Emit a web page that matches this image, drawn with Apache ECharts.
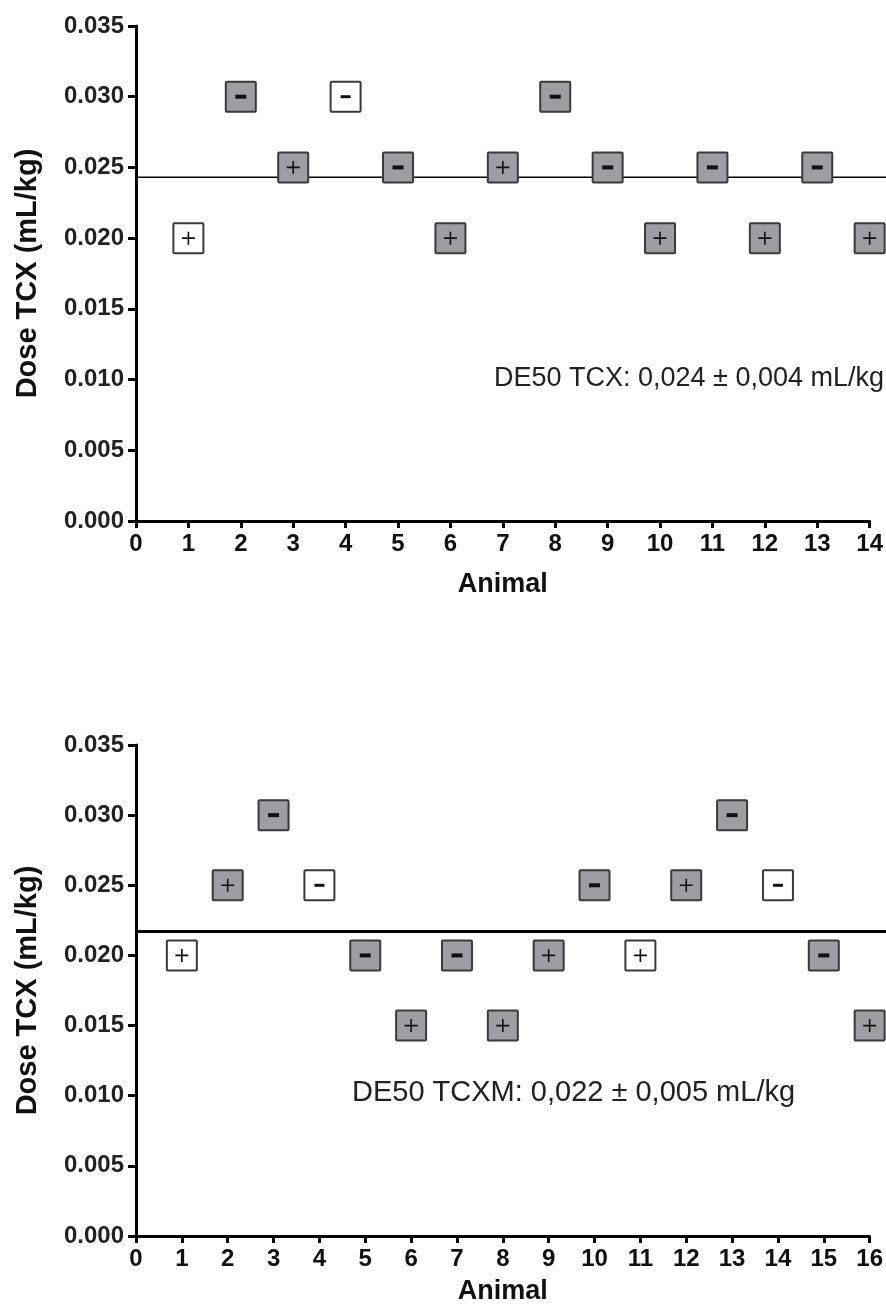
<!DOCTYPE html>
<html lang="en">
<head>
    <meta charset="utf-8">
    <style>
        html, body {
            margin: 0px;
            padding: 0px;
            background-color: #fff;
        }

        #chart {
            width: 886px;
            height: 1310px;
        }
    </style>
    <script src="https://cdn.jsdelivr.net/npm/echarts@6/dist/echarts.min.js"></script>
</head>
<body>
<div id="chart"></div>
<script type="text/javascript">
    // top panel: TCX
    var tcxAnimals = [1, 2, 3, 4, 5, 6, 7, 8, 9, 10, 11, 12, 13, 14];
    var tcxDoses = [0.020, 0.030, 0.025, 0.030, 0.025, 0.020, 0.025, 0.030, 0.025, 0.020, 0.025, 0.020, 0.025, 0.020];
    var tcxSigns = ['+', '-', '+', '-', '-', '+', '+', '-', '-', '+', '-', '+', '-', '+'];
    var tcxOpen = [1, 0, 0, 1, 0, 0, 0, 0, 0, 0, 0, 0, 0, 0];
    var tcxMean = 0.0243;
    var tcxNote = 'DE50 TCX: 0,024 ± 0,004 mL/kg';

    // bottom panel: TCXM
    var tcxmAnimals = [1, 2, 3, 4, 5, 6, 7, 8, 9, 10, 11, 12, 13, 14, 15, 16];
    var tcxmDoses = [0.020, 0.025, 0.030, 0.025, 0.020, 0.015, 0.020, 0.015, 0.020, 0.025, 0.020, 0.025, 0.030, 0.025, 0.020, 0.015];
    var tcxmSigns = ['+', '+', '-', '-', '-', '+', '-', '+', '+', '-', '+', '+', '-', '-', '-', '+'];
    var tcxmOpen = [1, 0, 0, 1, 0, 0, 0, 0, 0, 0, 1, 0, 0, 1, 0, 0];
    var tcxmMean = 0.0217;
    var tcxmNote = 'DE50 TCXM: 0,022 ± 0,005 mL/kg';

    var FONT = '"Liberation Sans", Arial, sans-serif';
    var PLUS = 'path://M0,5.25h12v1.5H0z M5.25,0h1.5v12H5.25z';

    var myChart = echarts.init(document.getElementById('chart'), null, {renderer: 'canvas'});

    function boxData(animals, doses, open) {
        var out = [];
        for (var i = 0; i < animals.length; i++) {
            out.push({
                value: [animals[i], doses[i]],
                itemStyle: {color: open[i] ? '#ffffff' : '#9d9da3'}
            });
        }
        return out;
    }

    function signData(animals, doses, signs, open) {
        var out = [];
        for (var i = 0; i < animals.length; i++) {
            var minus = signs[i] == '-';
            out.push({
                value: [animals[i], doses[i]],
                symbol: minus ? 'rect' : PLUS,
                symbolSize: minus ? (open[i] ? [10, 3] : [11, 4]) : [13, 13]
            });
        }
        return out;
    }

    function makeXAxis(idx, max, gap) {
        return {
            type: 'value',
            gridIndex: idx,
            min: 0,
            max: max,
            interval: 1,
            name: 'Animal',
            nameLocation: 'middle',
            nameGap: gap,
            nameTextStyle: {fontFamily: FONT, fontWeight: 'bold', fontSize: 27, color: '#111'},
            axisLine: {onZero: false, lineStyle: {color: '#000', width: 3}},
            axisTick: {length: 7, lineStyle: {color: '#000', width: 3}},
            axisLabel: {fontFamily: FONT, fontWeight: 'bold', fontSize: 24, color: '#111', margin: 11},
            splitLine: {show: false}
        };
    }

    function makeYAxis(idx) {
        return {
            type: 'value',
            gridIndex: idx,
            min: 0,
            max: 0.035,
            interval: 0.005,
            name: 'Dose TCX (mL/kg)',
            nameLocation: 'middle',
            nameGap: 94,
            nameTextStyle: {fontFamily: FONT, fontWeight: 'bold', fontSize: 29, color: '#111'},
            axisLine: {onZero: false, lineStyle: {color: '#000', width: 3}},
            axisTick: {length: 8, lineStyle: {color: '#000', width: 3}},
            axisLabel: {
                fontFamily: FONT, fontWeight: 'bold', fontSize: 24, color: '#222', margin: 12,
                formatter: function (v) { return v.toFixed(3); }
            },
            splitLine: {show: false}
        };
    }

    // hidden axes spanning out to the right edge, for the mean line
    function hiddenX(idx) {
        return {type: 'value', gridIndex: idx, min: 0, max: 1, show: false};
    }

    function hiddenY(idx) {
        return {type: 'value', gridIndex: idx, min: 0, max: 0.035, show: false};
    }

    function panelSeries(idx, lineIdx, animals, doses, signs, open, mean, lineWidth) {
        return [
            {
                type: 'line',
                xAxisIndex: lineIdx,
                yAxisIndex: lineIdx,
                data: [[0, mean], [1, mean]],
                symbol: 'none',
                silent: true,
                z: 1,
                lineStyle: {color: '#000', width: lineWidth}
            },
            {
                type: 'scatter',
                xAxisIndex: idx,
                yAxisIndex: idx,
                data: boxData(animals, doses, open),
                symbol: 'path://M1,0h28a1,1 0 0 1 1,1v28a1,1 0 0 1 -1,1h-28a1,1 0 0 1 -1,-1v-28a1,1 0 0 1 1,-1z',
                symbolSize: 30,
                clip: false,
                z: 2,
                itemStyle: {borderColor: '#3a3a3a', borderWidth: 2, opacity: 1}
            },
            {
                type: 'scatter',
                xAxisIndex: idx,
                yAxisIndex: idx,
                data: signData(animals, doses, signs, open),
                clip: false,
                silent: true,
                z: 3,
                itemStyle: {color: '#111', opacity: 1}
            }
        ];
    }

    var option = {
        animation: false,
        backgroundColor: '#fff',
        grid: [
            {left: 136, top: 26, width: 735, height: 495},
            {left: 136, top: 745, width: 735, height: 491},
            {left: 136, top: 26, width: 750, height: 495},
            {left: 136, top: 745, width: 750, height: 491}
        ],
        xAxis: [makeXAxis(0, 14, 50), makeXAxis(1, 16, 42), hiddenX(2), hiddenX(3)],
        yAxis: [makeYAxis(0), makeYAxis(1), hiddenY(2), hiddenY(3)],
        graphic: [
            {
                type: 'text',
                right: 2,
                top: 365,
                style: {text: tcxNote, font: '27px ' + FONT, fill: '#222'}
            },
            {
                type: 'text',
                left: 352,
                top: 1078,
                style: {text: tcxmNote, font: '29px ' + FONT, fill: '#222'}
            }
        ],
        series: [].concat(
            panelSeries(0, 2, tcxAnimals, tcxDoses, tcxSigns, tcxOpen, tcxMean, 1.5),
            panelSeries(1, 3, tcxmAnimals, tcxmDoses, tcxmSigns, tcxmOpen, tcxmMean, 3)
        )
    };

    myChart.setOption(option, true);
</script>
</body>
</html>
